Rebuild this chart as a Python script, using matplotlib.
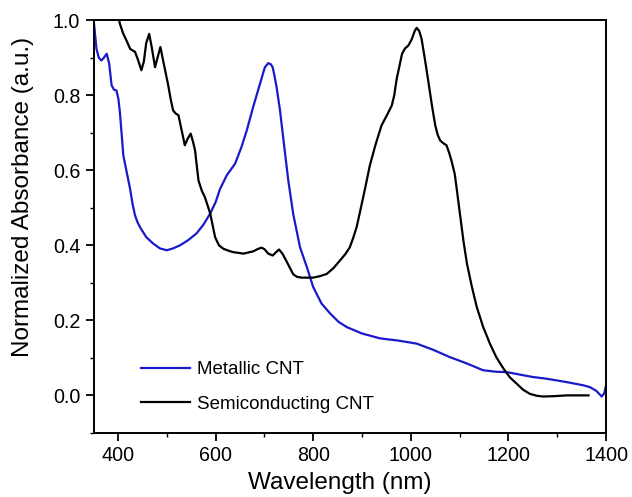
import matplotlib.pyplot as plt
import numpy as np

plt.rcParams["font.family"] = ["Liberation Sans", "DejaVu Sans"]

# Metallic CNT (blue)
metal_nm = [350, 351, 356, 361, 366, 371, 377, 382, 387, 392, 397, 401, 404, 408, 411,
            418, 425, 430, 435, 440, 445, 458, 472, 486, 500, 513, 527, 544, 561, 575,
            589, 600, 609, 623, 640, 653, 664, 677, 691, 701, 708, 713, 717, 721, 725,
            732, 740, 749, 759, 773, 787, 800, 817, 835, 852, 869, 900, 937, 975, 1012,
            1045, 1080, 1115, 1148, 1175, 1197, 1225, 1250, 1275, 1299, 1325, 1353,
            1367, 1380, 1391, 1396, 1400]
metal_abs = [1.00, 0.991, 0.924, 0.90, 0.893, 0.90, 0.911, 0.885, 0.827, 0.815, 0.813,
             0.79, 0.755, 0.69, 0.64, 0.595, 0.55, 0.51, 0.48, 0.462, 0.449, 0.422,
             0.405, 0.392, 0.387, 0.392, 0.40, 0.414, 0.432, 0.455, 0.485, 0.515,
             0.55, 0.587, 0.618, 0.662, 0.707, 0.769, 0.831, 0.875, 0.886, 0.883,
             0.875, 0.85, 0.822, 0.76, 0.671, 0.573, 0.484, 0.395, 0.342, 0.289, 0.245,
             0.218, 0.196, 0.182, 0.165, 0.152, 0.146, 0.138, 0.122, 0.102, 0.085,
             0.067, 0.063, 0.062, 0.055, 0.049, 0.045, 0.040, 0.034, 0.027, 0.022,
             0.012, -0.003, 0.005, 0.027]

# Semiconducting CNT (black)
semi_nm = [398, 404, 411, 418, 425, 435, 441, 448, 453, 458, 464, 469, 476, 481, 487,
           493, 503, 508, 513, 518, 524, 530, 537, 543, 549, 554, 558, 565, 572, 578,
           589, 599, 607, 616, 626, 636, 647, 657, 667, 677, 686, 694, 700, 708, 717,
           724, 730, 737, 746, 759, 767, 776, 788, 800, 814, 828, 842, 855, 866, 875,
           882, 889, 896, 906, 916, 928, 940, 951, 961, 966, 971, 977, 982, 988, 995,
           1002, 1008, 1012, 1017, 1022, 1029, 1036, 1043, 1050, 1055, 1060, 1066,
           1073, 1079, 1084, 1090, 1094, 1101, 1108, 1115, 1125, 1135, 1148, 1162,
           1175, 1190, 1203, 1217, 1230, 1244, 1258, 1271, 1295, 1319, 1342, 1364]
semi_abs = [1.03, 0.991, 0.964, 0.945, 0.924, 0.916, 0.895, 0.867, 0.89, 0.94, 0.964,
            0.93, 0.875, 0.90, 0.929, 0.89, 0.827, 0.79, 0.76, 0.752, 0.747, 0.71,
            0.667, 0.685, 0.698, 0.675, 0.653, 0.573, 0.545, 0.529, 0.485, 0.422,
            0.40, 0.391, 0.386, 0.382, 0.38, 0.378, 0.381, 0.384, 0.39, 0.394, 0.39,
            0.378, 0.373, 0.382, 0.389, 0.378, 0.356, 0.323, 0.316, 0.314, 0.314,
            0.314, 0.318, 0.324, 0.34, 0.36, 0.377, 0.395, 0.42, 0.449, 0.49, 0.55,
            0.613, 0.67, 0.72, 0.747, 0.773, 0.80, 0.844, 0.88, 0.911, 0.925, 0.933,
            0.95, 0.972, 0.98, 0.972, 0.951, 0.895, 0.836, 0.775, 0.72, 0.695, 0.68,
            0.673, 0.667, 0.645, 0.622, 0.59, 0.551, 0.48, 0.41, 0.351, 0.29, 0.236,
            0.183, 0.138, 0.102, 0.071, 0.048, 0.031, 0.015, 0.004, -0.001, -0.003,
            -0.002, 0.0, 0.0, 0.0]

x_ticks = [400, 600, 800, 1000, 1200, 1400]
y_ticks = [0.0, 0.2, 0.4, 0.6, 0.8, 1.0]

fig = plt.figure(figsize=(6.32, 4.97), dpi=100)
ax = fig.add_axes([0.148, 0.129, 0.811, 0.830])

ax.plot(metal_nm, metal_abs, color="#1a1acc", lw=1.6, label="Metallic CNT")
ax.plot(semi_nm, semi_abs, color="black", lw=1.6, label="Semiconducting CNT")

ax.set_xlim(350, 1400)
ax.set_ylim(-0.1, 1.0)
ax.set_xticks(x_ticks)
ax.set_yticks(y_ticks)
ax.set_yticklabels([f"{v:.1f}" for v in y_ticks])
ax.set_xticks(np.arange(500, 1400, 200), minor=True)
ax.set_yticks(np.arange(-0.1, 1.0, 0.2), minor=True)
ax.tick_params(which="major", direction="out", length=6, width=1.3, labelsize=14.2,
               pad=3.5, top=False, right=False)
ax.tick_params(which="minor", direction="out", length=3, width=1.0,
               top=False, right=False)
for side in ax.spines.values():
    side.set_linewidth(1.4)

ax.set_xlabel("Wavelength (nm)", fontsize=17.5)
ax.set_ylabel("Normalized Absorbance (a.u.)", fontsize=17.5)
ax.xaxis.set_label_coords(0.481, -0.094)
ax.yaxis.set_label_coords(-0.116, 0.571)

ax.legend(loc="lower left", bbox_to_anchor=(0.06, 0.008), frameon=False,
          fontsize=13.5, handlelength=2.6, handletextpad=0.4, labelspacing=0.92)

fig.savefig("out.png", dpi=100)
